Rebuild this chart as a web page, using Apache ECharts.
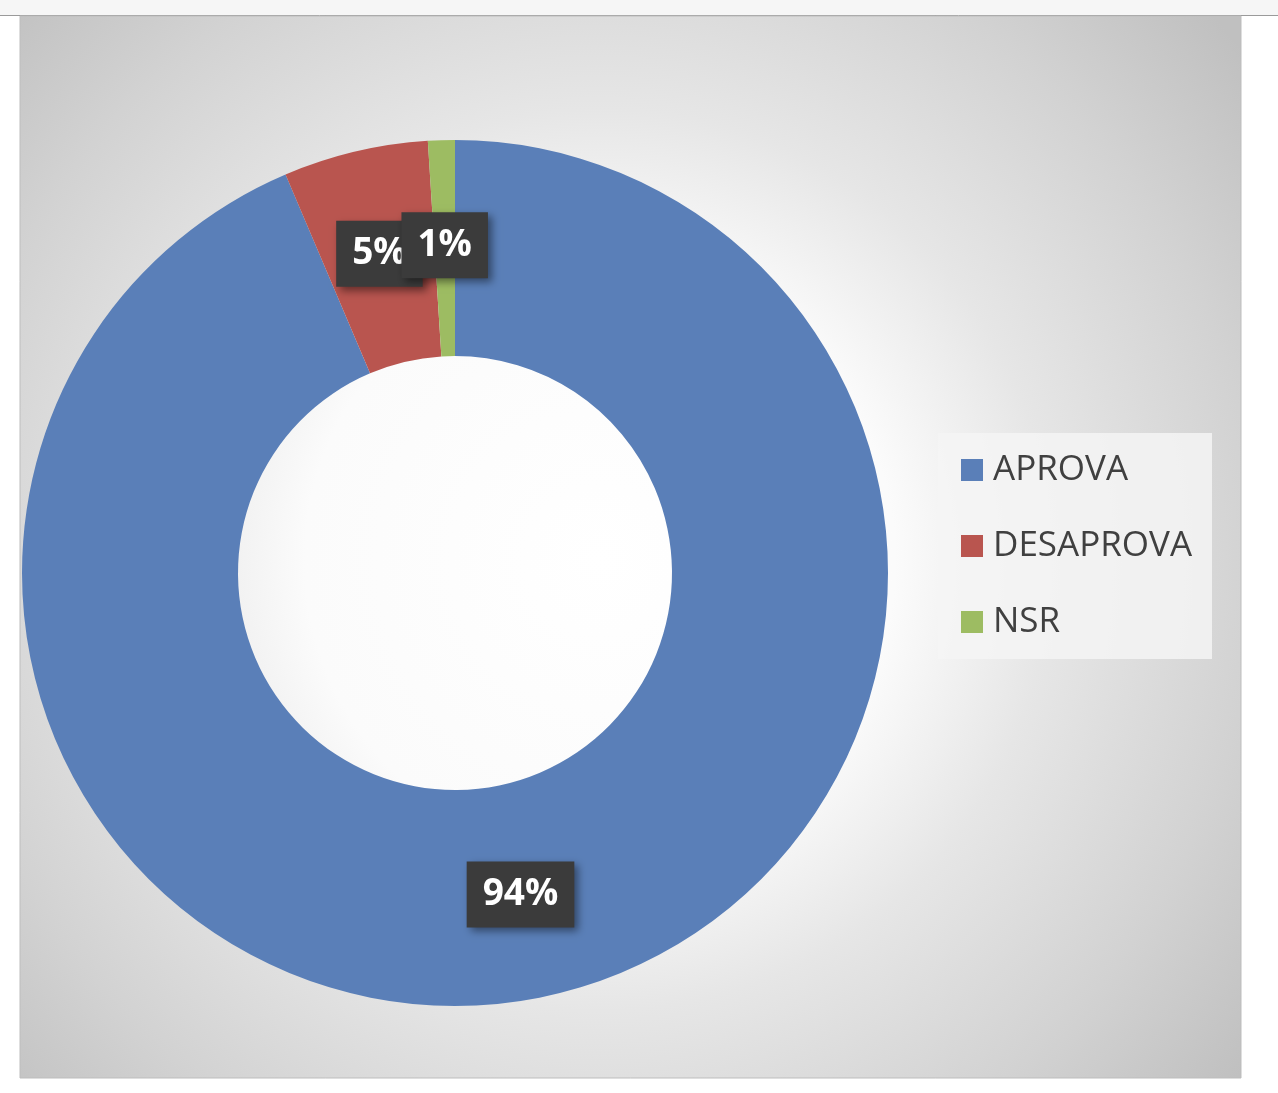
<!DOCTYPE html>
<html>
<head>
<meta charset="utf-8">
<script src="https://cdn.jsdelivr.net/npm/echarts@6/dist/echarts.min.js"></script>
<style>
  html, body { margin: 0; padding: 0; background: #fff; }
  #main { width: 1278px; height: 1093px; }
</style>
</head>
<body>
<div id="main"></div>
<script>
// dados do gráfico
var categorias = ['APROVA', 'DESAPROVA', 'NSR'];
var valores = [93.6, 5.4, 1.0];
var cores = ['#5a7fb8', '#b9554f', '#9dbc62'];

var myChart = echarts.init(document.getElementById('main'));

var dados = categorias.map(function (nome, i) {
    return { name: nome, value: valores[i] };
});

var option = {
    backgroundColor: '#ffffff',
    animation: false,
    color: cores,
    graphic: [
        // faixa superior
        {
            type: 'rect', z: -10,
            shape: { x: 0, y: 0, width: 1278, height: 15 },
            style: { fill: '#f6f6f6' }
        },
        {
            type: 'line', z: -10,
            shape: { x1: 0, y1: 15.5, x2: 1278, y2: 15.5 },
            style: { stroke: '#9a9a9a', lineWidth: 1 }
        },
        // área do gráfico com gradiente radial
        {
            type: 'rect', z: -10,
            shape: { x: 20, y: 16, width: 1221, height: 1062 },
            style: {
                fill: new echarts.graphic.RadialGradient(600, 560, 820, [
                    { offset: 0, color: '#ffffff' },
                    { offset: 0.36, color: '#fbfbfb' },
                    { offset: 0.55, color: '#e6e6e6' },
                    { offset: 0.8, color: '#d2d2d2' },
                    { offset: 1, color: '#c0c0c0' }
                ], true),
                stroke: '#bdbdbd',
                lineWidth: 1
            }
        }
    ],
    legend: {
        orient: 'vertical',
        left: 938,
        top: 433,
        padding: [17, 20, 17, 23],
        backgroundColor: 'rgba(244,244,244,0.85)',
        itemWidth: 22,
        itemHeight: 22,
        itemGap: 36,
        icon: 'rect',
        selectedMode: false,
        textStyle: {
            fontFamily: 'Open Sans',
            fontSize: 35,
            lineHeight: 40,
            color: '#404040',
            padding: [0, 0, 0, 5]
        },
        data: categorias
    },
    series: [
        {
            type: 'pie',
            center: [455, 573],
            radius: [217, 433],
            startAngle: 90,
            clockwise: true,
            percentPrecision: 0,
            avoidLabelOverlap: false,
            silent: true,
            emphasis: { disabled: true },
            itemStyle: { borderWidth: 0 },
            label: {
                show: true,
                position: 'inside',
                formatter: '{d}%',
                fontFamily: 'Open Sans',
                fontWeight: 'bold',
                fontSize: 37,
                color: '#ffffff',
                backgroundColor: '#3b3b3b',
                padding: [15, 16, 14, 16],
                shadowColor: 'rgba(0,0,0,0.45)',
                shadowBlur: 8,
                shadowOffsetX: 4,
                shadowOffsetY: 4
            },
            labelLine: { show: false },
            labelLayout: { hideOverlap: false },
            data: dados
        }
    ]
};

myChart.setOption(option);
</script>
</body>
</html>
